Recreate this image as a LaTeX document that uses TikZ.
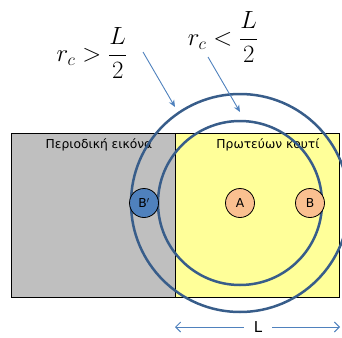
\documentclass[tikz,border=0pt]{standalone}
\usepackage{amsmath}
\usepackage{fontspec}
\usepackage{tikz}
\usetikzlibrary{arrows.meta,positioning}
\newfontfamily\boxfont{DejaVu Sans}
\definecolor{ringblue}{HTML}{385D8A}
\definecolor{arrowblue}{HTML}{4F81BD}
\definecolor{imagegrey}{HTML}{BFBFBF}
\definecolor{boxyellow}{HTML}{FFFF99}
\definecolor{atomorange}{HTML}{FAC090}

\begin{document}
\begin{tikzpicture}[x=1pt,y=-1pt,>=Stealth,
			every node/.style={font=\boxfont\fontsize{12.3}{14}\selectfont},
			cell/.style={draw=black,line width=.9pt,minimum width=164pt,minimum height=164pt,inner sep=0pt},
			atom/.style={circle,draw=black,line width=.8pt,minimum size=29pt,inner sep=0pt},
			ring/.style={draw=ringblue,line width=2.5pt},
			pointer/.style={arrowblue,line width=.9pt,-{Stealth[length=7pt,width=6pt]}},
			span/.style={arrowblue,line width=.9pt,-{Straight Barb[length=5pt,width=10pt]}},
			cond/.style={font=\fontsize{23.5}{28}\selectfont}]
			\useasboundingbox (0,0) rectangle (342,337);
			\node[cell,fill=imagegrey] (image) at (93,215) {};
			\node[cell,fill=boxyellow] (box) at (257,215) {};
			\node (imagelab) at (99,145) {Περιοδική εικόνα};
			\node (boxlab) at (268,145) {Πρωτεύων κουτί};
			\coordinate (centre) at (240,203);
			\draw[ring] (centre) circle[radius=109];
			\draw[ring] (centre) circle[radius=82];
			\node[atom,fill=atomorange] (A) at (centre) {A};
			\node[atom,fill=atomorange] (B) at (310,203) {B};
			\node[atom,fill=arrowblue] (Bimg) at (144,203) {B$'$};
			\node[cond] (gt) at (92,53) {$\displaystyle r_c > \frac{L}{2}$};
			\node[cond] (lt) at (223,37) {$\displaystyle r_c < \frac{L}{2}$};
			\coordinate (gtfrom) at (143,52);
			\coordinate (gtto) at (175,107);
			\coordinate (ltfrom) at (208,57);
			\coordinate (ltto) at (240,112);
			\foreach \a/\b in {gtfrom/gtto,ltfrom/ltto}
			{\draw[pointer] (\a)--(\b);}
			\node[font=\boxfont\fontsize{15}{18}\selectfont,inner xsep=10pt] (len) at (258,327) {L};
			\coordinate (lenleft) at (175,327);
			\coordinate (lenright) at (340,327);
			\foreach \b in {lenleft,lenright}
			{\draw[span] (len)--(\b);}
		\end{tikzpicture}
\end{document}
